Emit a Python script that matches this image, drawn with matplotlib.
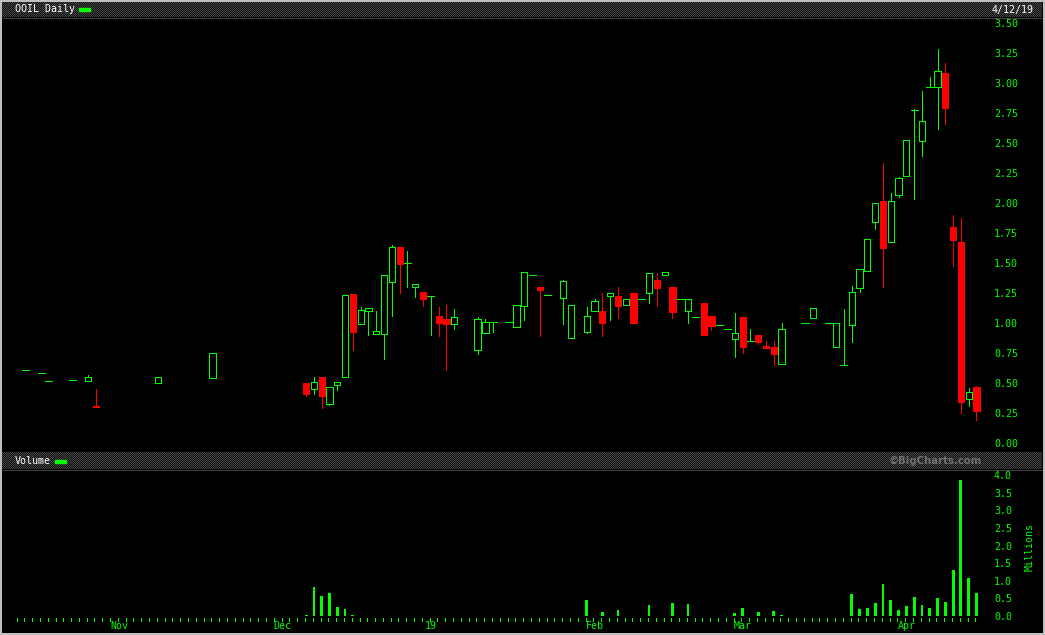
#!/usr/bin/env python
# coding: utf-8

import numpy as np
import matplotlib
matplotlib.use('Agg')
import matplotlib.pyplot as plt
from matplotlib.patches import Rectangle

plt.rcParams['font.family'] = ['DejaVu Sans Mono', 'DejaVu Sans']

# -------------------------- 数据 --------------------------
# 交易日序号（0 = 2018-10-15，123 = 2019-04-12）
days = [1, 3, 4, 7, 9, 10, 18, 25, 37, 38, 39, 40, 41, 42, 43, 44, 45, 46, 47, 48,
        49, 50, 51, 52, 53, 54, 55, 56, 59, 60, 61, 63, 64, 65, 66, 67, 68, 70, 71, 73,
        74, 75, 76, 77, 78, 79, 80, 81, 82, 83, 84, 85, 86, 87, 88, 89, 90, 91, 92, 93,
        94, 95, 96, 97, 98, 101, 102, 104, 105, 106, 107, 108, 109, 110, 111, 112, 113,
        114, 115, 116, 117, 118, 119, 120, 121, 122, 123]
opens = [0.608, 0.59, 0.517, 0.525, 0.522, 0.31, 0.505, 0.547, 0.50, 0.45, 0.553, 0.33,
         0.483, 0.55, 1.244, 0.997, 1.10, 0.913, 0.913, 1.347, 1.636, 1.50, 1.30, 1.261,
         1.23, 1.061, 1.036, 0.997, 0.775, 0.917, 1.008, 1.008, 0.972, 1.147, 1.40, 1.30,
         1.233, 1.213, 0.875, 0.93, 1.10, 1.103, 1.225, 1.228, 1.15, 1.253, 1.20, 1.25,
         1.36, 1.40, 1.30, 1.20, 1.10, 1.05, 1.169, 1.061, 0.983, 0.95, 0.867, 1.053,
         0.853, 0.903, 0.811, 0.803, 0.663, 1.00, 1.047, 1.00, 0.80, 0.652, 0.983, 1.297,
         1.433, 1.847, 2.019, 1.68, 2.067, 2.225, 2.778, 2.517, 2.972, 2.972, 3.086,
         1.803, 1.678, 0.367, 0.467]
highs = [0.608, 0.59, 0.517, 0.525, 0.569, 0.45, 0.55, 0.75, 0.50, 0.553, 0.553, 0.467,
         0.508, 1.233, 1.244, 1.133, 1.125, 1.10, 1.40, 1.652, 1.636, 1.603, 1.325, 1.261,
         1.23, 1.136, 1.153, 1.119, 1.05, 1.033, 1.008, 1.008, 1.15, 1.425, 1.40, 1.30,
         1.233, 1.36, 1.15, 1.136, 1.20, 1.253, 1.25, 1.303, 1.20, 1.253, 1.20, 1.417,
         1.419, 1.425, 1.30, 1.20, 1.20, 1.05, 1.169, 1.061, 0.983, 0.95, 1.086, 1.053,
         0.953, 0.903, 0.853, 0.853, 1.003, 1.00, 1.125, 1.00, 1.00, 1.119, 1.311, 1.45,
         1.70, 2.00, 2.336, 2.083, 2.222, 2.528, 2.79, 2.936, 3.05, 3.286, 3.169,
         1.903, 1.878, 0.463, 0.48]
lows = [0.608, 0.59, 0.517, 0.525, 0.522, 0.30, 0.505, 0.547, 0.397, 0.413, 0.297, 0.322,
        0.447, 0.55, 0.78, 0.997, 0.905, 0.913, 0.705, 1.063, 1.255, 1.305, 1.222, 1.147,
        0.905, 0.897, 0.613, 0.955, 0.747, 0.917, 0.93, 1.008, 0.972, 1.03, 1.40, 0.897,
        1.233, 0.997, 0.875, 0.922, 1.10, 0.897, 1.03, 1.047, 1.15, 1.005, 1.20, 1.172,
        1.147, 1.40, 1.047, 1.20, 1.005, 1.05, 0.902, 0.947, 0.983, 0.95, 0.722, 0.755,
        0.853, 0.83, 0.797, 0.652, 0.663, 1.00, 1.047, 1.00, 0.80, 0.652, 0.847, 1.258,
        1.433, 1.783, 1.305, 1.678, 2.055, 2.225, 2.036, 2.394, 2.972, 2.619, 2.66,
        1.48, 0.255, 0.313, 0.197]
closes = [0.608, 0.59, 0.517, 0.525, 0.55, 0.30, 0.55, 0.75, 0.413, 0.508, 0.397, 0.467,
          0.508, 1.233, 0.93, 1.108, 1.125, 0.933, 1.40, 1.636, 1.497, 1.50, 1.325, 1.205,
          1.23, 1.005, 0.997, 1.05, 1.033, 1.008, 1.008, 1.008, 1.15, 1.425, 1.40, 1.28,
          1.233, 1.35, 1.15, 1.058, 1.183, 1.005, 1.25, 1.147, 1.20, 1.005, 1.20, 1.417,
          1.297, 1.425, 1.094, 1.20, 1.20, 1.05, 0.902, 0.98, 0.983, 0.95, 0.917, 0.805,
          0.853, 0.847, 0.797, 0.747, 0.953, 1.00, 1.125, 1.00, 1.00, 0.652, 1.258, 1.45,
          1.70, 2.00, 1.63, 2.017, 2.21, 2.528, 2.778, 2.683, 2.972, 3.10, 2.794,
          1.697, 0.347, 0.425, 0.272]

# 成交量（百万股）
vol_days = [37, 38, 39, 40, 41, 42, 43, 59, 73, 75, 77, 81, 84, 86, 92, 93, 95, 97, 98,
            107, 108, 109, 110, 111, 112, 113, 114, 115, 116, 117, 118, 119, 120, 121,
            122, 123]
volumes = [0.037, 0.83, 0.577, 0.652, 0.265, 0.199, 0.037, 0.01, 0.454, 0.113, 0.17,
           0.312, 0.369, 0.34, 0.085, 0.227, 0.113, 0.142, 0.037, 0.633, 0.199, 0.227,
           0.369, 0.917, 0.463, 0.17, 0.284, 0.548, 0.321, 0.236, 0.52, 0.406, 1.314,
           3.867, 1.087, 0.661]

n_days = 124
month_pos = [13, 34, 53, 74, 93, 114]
month_labels = ['Nov', 'Dec', '19', 'Feb', 'Mar', 'Apr']
price_ticks = [0.0, 0.25, 0.5, 0.75, 1.0, 1.25, 1.5, 1.75, 2.0, 2.25, 2.5, 2.75, 3.0, 3.25, 3.5]
vol_ticks = [0.0, 0.5, 1.0, 1.5, 2.0, 2.5, 3.0, 3.5, 4.0]

# -------------------------- 样式 --------------------------
W, H = 1045, 635
GREEN = '#00ff00'
RED = '#ff0000'
PX = 0.72  # 1 像素对应的线宽(pt)


def px_rect(x0, y0, x1, y1):
    """像素坐标(左上原点) -> figure 坐标"""
    return [x0 / W, 1 - y1 / H, (x1 - x0) / W, (y1 - y0) / H]


def k_at(px):
    """像素横坐标 -> 交易日序号"""
    return (px - 17.7) / 7.795


def checker(ax, x0, y0, x1, y1):
    """画 BigCharts 风格的棋盘格标题栏"""
    h, w = int(y1 - y0), int(x1 - x0)
    yy, xx = np.mgrid[0:h, 0:w]
    img = np.where((xx + yy) % 2 == 0, 0.27, 0.06)
    ax.imshow(img, cmap='gray', vmin=0, vmax=1, interpolation='nearest',
              extent=(x0, x1, y1, y0), aspect='auto', zorder=1)


def draw_candles(ax):
    bw = 0.8
    aa = False  # 关闭抗锯齿，保持像素风格
    for k, o, h, l, c in zip(days, opens, highs, lows, closes):
        if o == c:
            # 十字星 / 一字线
            ax.vlines(k, l, h, color=GREEN, lw=PX, zorder=2, antialiased=aa)
            ax.hlines(o, k - 0.45, k + 0.45, color=GREEN, lw=PX, zorder=3, antialiased=aa)
        elif c > o:
            # 阳线：空心绿框
            if h > c:
                ax.vlines(k, c, h, color=GREEN, lw=PX, zorder=2, antialiased=aa)
            if l < o:
                ax.vlines(k, l, o, color=GREEN, lw=PX, zorder=2, antialiased=aa)
            ax.add_patch(Rectangle((k - bw / 2, o), bw, c - o, facecolor='black',
                                   edgecolor=GREEN, lw=PX, zorder=3, antialiased=aa))
        else:
            # 阴线：实心红块
            ax.vlines(k, l, h, color=RED, lw=PX, zorder=2, antialiased=aa)
            ax.add_patch(Rectangle((k - bw / 2, c), bw, o - c, facecolor=RED,
                                   edgecolor=RED, lw=PX, zorder=3, antialiased=aa))


def main():
    fig = plt.figure(figsize=(W / 100, H / 100), dpi=100)
    fig.patch.set_facecolor('black')

    # 背景层：边框与标题栏
    bg = fig.add_axes([0, 0, 1, 1], zorder=0)
    bg.set_xlim(0, W)
    bg.set_ylim(H, 0)
    bg.axis('off')
    checker(bg, 2, 2, 1042, 17)
    checker(bg, 2, 452, 1042, 469)
    bg.hlines(17.5, 2, 1042, color='#444444', lw=PX, zorder=2)
    bg.hlines(469.5, 2, 1042, color='#444444', lw=PX, zorder=2)
    for x in (1, 1043.5):
        bg.vlines(x, 0, H, color='#c0c0c0', lw=2 * PX, zorder=4)
    for y in (1, 633.5):
        bg.hlines(y, 0, W, color='#c0c0c0', lw=2 * PX, zorder=4)

    bg.text(15, 9.5, 'OOIL Daily', color='white', fontsize=7.2, va='center', ha='left', zorder=5)
    bg.add_patch(Rectangle((79, 8), 11, 3, color=GREEN, zorder=5))
    bg.text(1034, 9.5, '4/12/19', color='white', fontsize=7.2, va='center', ha='right', zorder=5)
    bg.text(15, 461, 'Volume', color='white', fontsize=7.2, va='center', ha='left', zorder=5)
    bg.add_patch(Rectangle((55, 460), 11, 3, color=GREEN, zorder=5))
    bg.text(982, 461, '©BigCharts.com', color='#707070', fontsize=7.3, fontweight='bold',
            family='DejaVu Sans', va='center', ha='right', zorder=5)
    bg.text(1030, 547, 'Millions', color=GREEN, fontsize=7.2, rotation=90,
            va='center', ha='center', zorder=5)

    # 价格面板
    ax = fig.add_axes(px_rect(2, 18, 985, 451.5), zorder=1)
    ax.set_facecolor('none')
    ax.set_xlim(k_at(2), k_at(985))
    ax.set_ylim((443.3 - 451.5) / 120, (443.3 - 18) / 120)
    draw_candles(ax)
    ax.set_xticks([])
    ax.yaxis.tick_right()
    ax.set_yticks(price_ticks)
    ax.set_yticklabels([f'{p:.2f}' for p in price_ticks])
    ax.tick_params(axis='y', length=0, pad=6.5, colors=GREEN, labelsize=7.2)
    for s in ax.spines.values():
        s.set_visible(False)

    # 成交量面板
    vax = fig.add_axes(px_rect(2, 470, 985, 632.5), zorder=1)
    vax.set_facecolor('none')
    vax.set_xlim(k_at(2), k_at(985))
    vax.set_ylim((616 - 632.5) / 35.25, (616 - 470) / 35.25)
    vax.bar(vol_days, volumes, width=0.36, color=GREEN, zorder=2, antialiased=False)
    tick_k = np.arange(n_days) - 0.15
    vax.vlines(tick_k, -2.0 / 35.25, -5.0 / 35.25, color=GREEN, lw=PX, antialiased=False)
    for k, lab in zip(month_pos, month_labels):
        vax.text(k, -9.7 / 35.25, lab, color=GREEN, fontsize=7.2, ha='center', va='center')
    vax.set_xticks([])
    vax.yaxis.tick_right()
    vax.set_yticks(vol_ticks)
    vax.set_yticklabels([f'{v:.1f}' for v in vol_ticks])
    vax.tick_params(axis='y', length=0, pad=6.5, colors=GREEN, labelsize=7.2)
    for s in vax.spines.values():
        s.set_visible(False)

    fig.savefig('out.png', dpi=100, facecolor='black')
    plt.close(fig)


if __name__ == '__main__':
    main()
